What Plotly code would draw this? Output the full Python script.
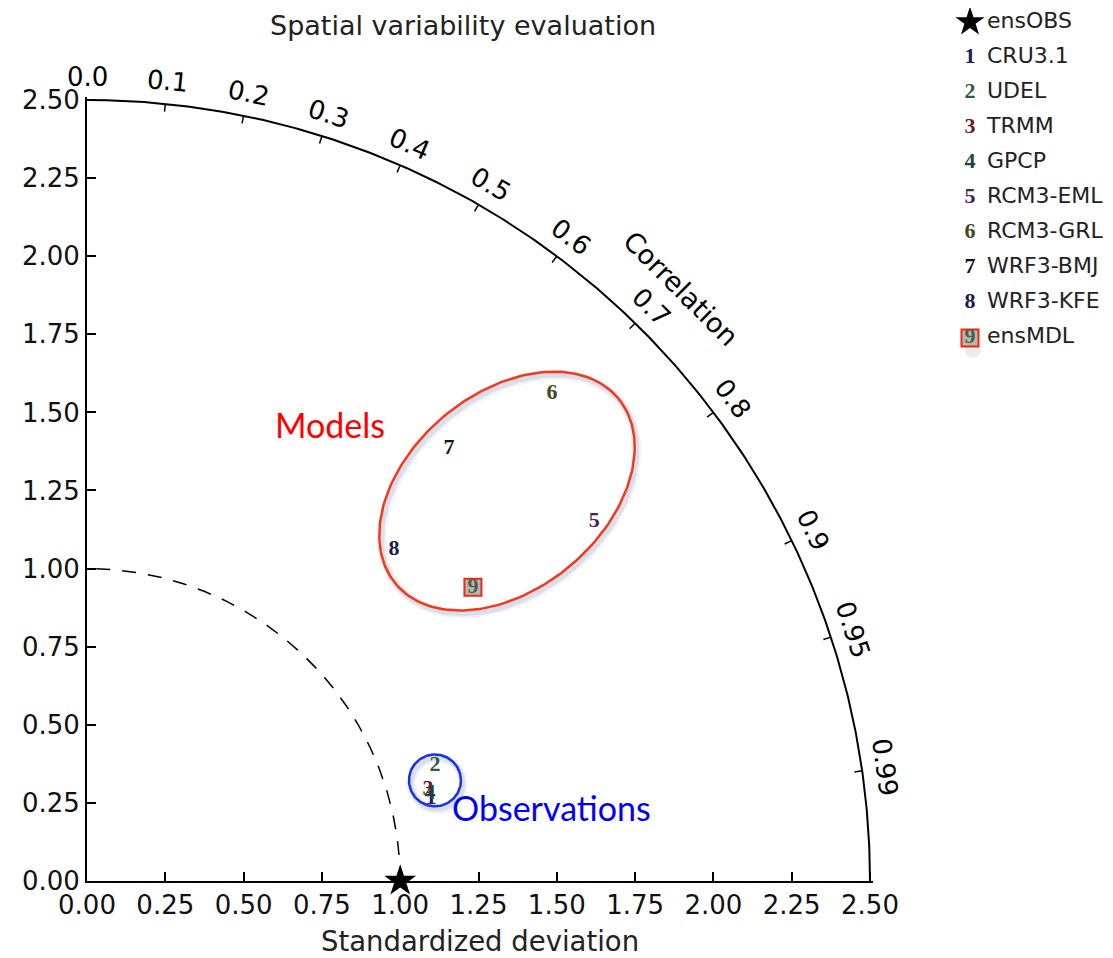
import numpy as np
import plotly.graph_objects as go

# Taylor diagram values
names = ["CRU3.1", "UDEL", "TRMM", "GPCP", "RCM3-EML", "RCM3-GRL", "WRF3-BMJ", "WRF3-KFE", "ensMDL"]
labels = ["1", "2", "3", "4", "5", "6", "7", "8", "9"]
std_dev = [1.130, 1.171, 1.127, 1.130, 1.987, 2.155, 1.803, 1.444, 1.550]
corr = [0.972, 0.949, 0.966, 0.969, 0.815, 0.689, 0.641, 0.679, 0.795]
colors = ["#1c1c5c", "#2f5a3c", "#6a1c1c", "#1c4646", "#4a2050", "#46461e", "#141414", "#1c1c4a", "#505a50"]

ref_name = "ensOBS"
ref_std = 1.0
std_max = 2.5

corr_ticks = [0.0, 0.1, 0.2, 0.3, 0.4, 0.5, 0.6, 0.7, 0.8, 0.9, 0.95, 0.99]
corr_tick_text = ["0.0", "0.1", "0.2", "0.3", "0.4", "0.5", "0.6", "0.7", "0.8", "0.9", "0.95", "0.99"]
std_ticks = [0.0, 0.25, 0.5, 0.75, 1.0, 1.25, 1.5, 1.75, 2.0, 2.25, 2.5]

# page is 1113x958, the body has an 8px margin before the figure starts
OFF = 8
FW, FH = 1113 - OFF, 958 - OFF
RMAX = 2.51
XDOM = [(87 - OFF) / FW, (87 + RMAX * 313.2 - OFF) / FW]
YDOM = [1 - (881 - OFF) / FH, 1 - (881 - RMAX * 312.4 - OFF) / FH]
FONT = "DejaVu Sans"
DIGIT_FONT = "Liberation Serif"


def polar_xy(r, c):
    r = np.asarray(r, dtype=float)
    c = np.asarray(c, dtype=float)
    return r * c, r * np.sqrt(1 - c ** 2)


def ellipse(cx, cy, a, b, angle_deg, n=200):
    t = np.linspace(0, 2 * np.pi, n)
    th = np.radians(angle_deg)
    ex = cx + a * np.cos(t) * np.cos(th) - b * np.sin(t) * np.sin(th)
    ey = cy + a * np.cos(t) * np.sin(th) + b * np.sin(t) * np.cos(th)
    return ex, ey


def data_to_paper(x, y):
    return (XDOM[0] + x / RMAX * (XDOM[1] - XDOM[0]),
            YDOM[0] + y / RMAX * (YDOM[1] - YDOM[0]))


def page_to_paper(px, py):
    return (px - OFF) / FW, 1 - (py - OFF) / FH


fig = go.Figure()

# outer arc and correlation ticks
theta = np.linspace(0, np.pi / 2, 300)
fig.add_trace(go.Scatter(x=std_max * np.cos(theta), y=std_max * np.sin(theta), mode="lines",
                         line=dict(color="black", width=2), hoverinfo="skip", showlegend=False))
tx, ty = [], []
for c in corr_ticks[1:]:
    x0, y0 = polar_xy(std_max, c)
    x1, y1 = polar_xy(std_max - 0.025, c)
    tx += [float(x0), float(x1), None]
    ty += [float(y0), float(y1), None]
fig.add_trace(go.Scatter(x=tx, y=ty, mode="lines", line=dict(color="black", width=1.5),
                         hoverinfo="skip", showlegend=False))

# reference std circle
fig.add_trace(go.Scatter(x=ref_std * np.cos(theta), y=ref_std * np.sin(theta), mode="lines",
                         line=dict(color="black", width=1.5, dash="14px,12px"),
                         hoverinfo="skip", showlegend=False))

# highlight ellipse / circle with a soft shadow
ex, ey = ellipse(1.341, 1.248, 0.463, 0.313, 40)
cx, cy = ellipse(1.111, 0.322, 0.083, 0.083, 0)
for sx, sy in [(ex, ey), (cx, cy)]:
    for w, a in [(9, 0.08), (5, 0.14)]:
        fig.add_trace(go.Scatter(x=sx + 0.007, y=sy - 0.010, mode="lines",
                                 line=dict(color=f"rgba(90,100,150,{a})", width=w),
                                 hoverinfo="skip", showlegend=False))
fig.add_trace(go.Scatter(x=ex, y=ey, mode="lines", line=dict(color="#f2391c", width=2.5),
                         hoverinfo="skip", showlegend=False))
fig.add_trace(go.Scatter(x=cx, y=cy, mode="lines", line=dict(color="#1630f0", width=2.5),
                         hoverinfo="skip", showlegend=False))

# reference point
fig.add_trace(go.Scatter(x=[ref_std], y=[0], mode="markers", cliponaxis=False,
                         marker=dict(symbol="star", size=24, color="black"), name=ref_name, showlegend=False))

# model / observation points
px_, py_ = polar_xy(std_dev, corr)
fig.add_trace(go.Scatter(x=px_[-1:], y=py_[-1:], mode="markers",
                         marker=dict(symbol="square", size=17, color="#b4b9ae",
                                     line=dict(color="#ee2a14", width=2)),
                         hoverinfo="skip", showlegend=False))
fig.add_trace(go.Scatter(x=px_, y=py_, mode="text", text=labels, textposition="middle center",
                         textfont=dict(family=DIGIT_FONT, size=22, color=colors, weight="bold"),
                         hovertext=names, hoverinfo="text", showlegend=False))

# hand-made legend on its own page-pixel axes
row0, dy = 22, 35.1
leg_x = 970
rows = [row0 + dy * (i + 1) for i in range(len(names))]
fig.add_trace(go.Scatter(x=[leg_x], y=[row0], mode="markers", xaxis="x2", yaxis="y2",
                         marker=dict(symbol="star", size=22, color="black"),
                         hoverinfo="skip", showlegend=False))
fig.add_trace(go.Scatter(x=[leg_x + 3], y=[rows[-1] + 12], mode="markers", xaxis="x2", yaxis="y2",
                         marker=dict(symbol="circle", size=16, color="rgba(90,100,150,0.12)"),
                         hoverinfo="skip", showlegend=False))
fig.add_trace(go.Scatter(x=[leg_x], y=[rows[-1]], mode="markers", xaxis="x2", yaxis="y2",
                         marker=dict(symbol="square", size=17, color="#b4b9ae",
                                     line=dict(color="#ee2a14", width=2)),
                         hoverinfo="skip", showlegend=False))
fig.add_trace(go.Scatter(x=[leg_x] * len(labels), y=rows, mode="text", text=labels,
                         xaxis="x2", yaxis="y2",
                         textfont=dict(family=DIGIT_FONT, size=22, color=colors, weight="bold"),
                         hoverinfo="skip", showlegend=False))
fig.add_trace(go.Scatter(x=[leg_x + 17] * (len(names) + 1), y=[row0] + rows, mode="text",
                         text=[ref_name] + names, textposition="middle right",
                         xaxis="x2", yaxis="y2",
                         textfont=dict(family=FONT, size=22, color="#222222"),
                         hoverinfo="skip", showlegend=False))

annotations = []
# correlation tick labels, turned along the arc
for c, t in zip(corr_ticks, corr_tick_text):
    lx, ly = data_to_paper(*polar_xy(2.575, c))
    ang = 90 - np.degrees(np.arccos(c))
    annotations.append(dict(x=float(lx), y=float(ly), xref="paper", yref="paper", text=t, showarrow=False,
                            xanchor="center", yanchor="middle", textangle=float(ang),
                            font=dict(family=FONT, size=26, color="black")))
lx, ly = data_to_paper(*polar_xy(2.68, np.cos(np.radians(45))))
annotations.append(dict(x=float(lx), y=float(ly), xref="paper", yref="paper", text="Correlation",
                        showarrow=False, xanchor="center", yanchor="middle", textangle=45,
                        font=dict(family=FONT, size=27, color="black")))
annotations.append(dict(x=0.776, y=1.46, xref="x", yref="y", text="Models", showarrow=False,
                        font=dict(family="Lato", size=34, color="#ff0000")))
annotations.append(dict(x=1.482, y=0.235, xref="x", yref="y", text="Observations", showarrow=False,
                        font=dict(family="Lato", size=34, color="#0000ff")))
tx_, ty_ = page_to_paper(463, 25)
annotations.append(dict(x=tx_, y=ty_, xref="paper", yref="paper", text="Spatial variability evaluation",
                        showarrow=False, xanchor="center", yanchor="middle",
                        font=dict(family=FONT, size=27, color="#222222")))
tx_, ty_ = page_to_paper(480, 941)
annotations.append(dict(x=tx_, y=ty_, xref="paper", yref="paper", text="Standardized deviation",
                        showarrow=False, xanchor="center", yanchor="middle",
                        font=dict(family=FONT, size=27.5, color="#222222")))

axis_common = dict(range=[0, RMAX], tickvals=std_ticks, tickformat=".2f", ticks="inside", ticklen=9,
                   tickwidth=1.5, tickcolor="black", showline=True, linecolor="black", linewidth=2,
                   showgrid=False, zeroline=False, automargin=False, fixedrange=True,
                   tickfont=dict(family=FONT, size=26, color="#111111"))

fig.update_layout(
    width=FW, height=FH,
    margin=dict(l=0, r=0, t=0, b=0),
    paper_bgcolor="white",
    plot_bgcolor="rgba(0,0,0,0)",
    showlegend=False,
    xaxis=dict(domain=XDOM, anchor="y", **axis_common),
    yaxis=dict(domain=YDOM, anchor="x", **axis_common),
    xaxis2=dict(domain=[0.8, 1.0], range=[0.8 * FW + OFF, FW + OFF], visible=False, anchor="y2", fixedrange=True),
    yaxis2=dict(domain=[0.0, 1.0], range=[FH + OFF, OFF], visible=False, anchor="x2", fixedrange=True),
    annotations=annotations,
)

fig.write_html("out.html")
